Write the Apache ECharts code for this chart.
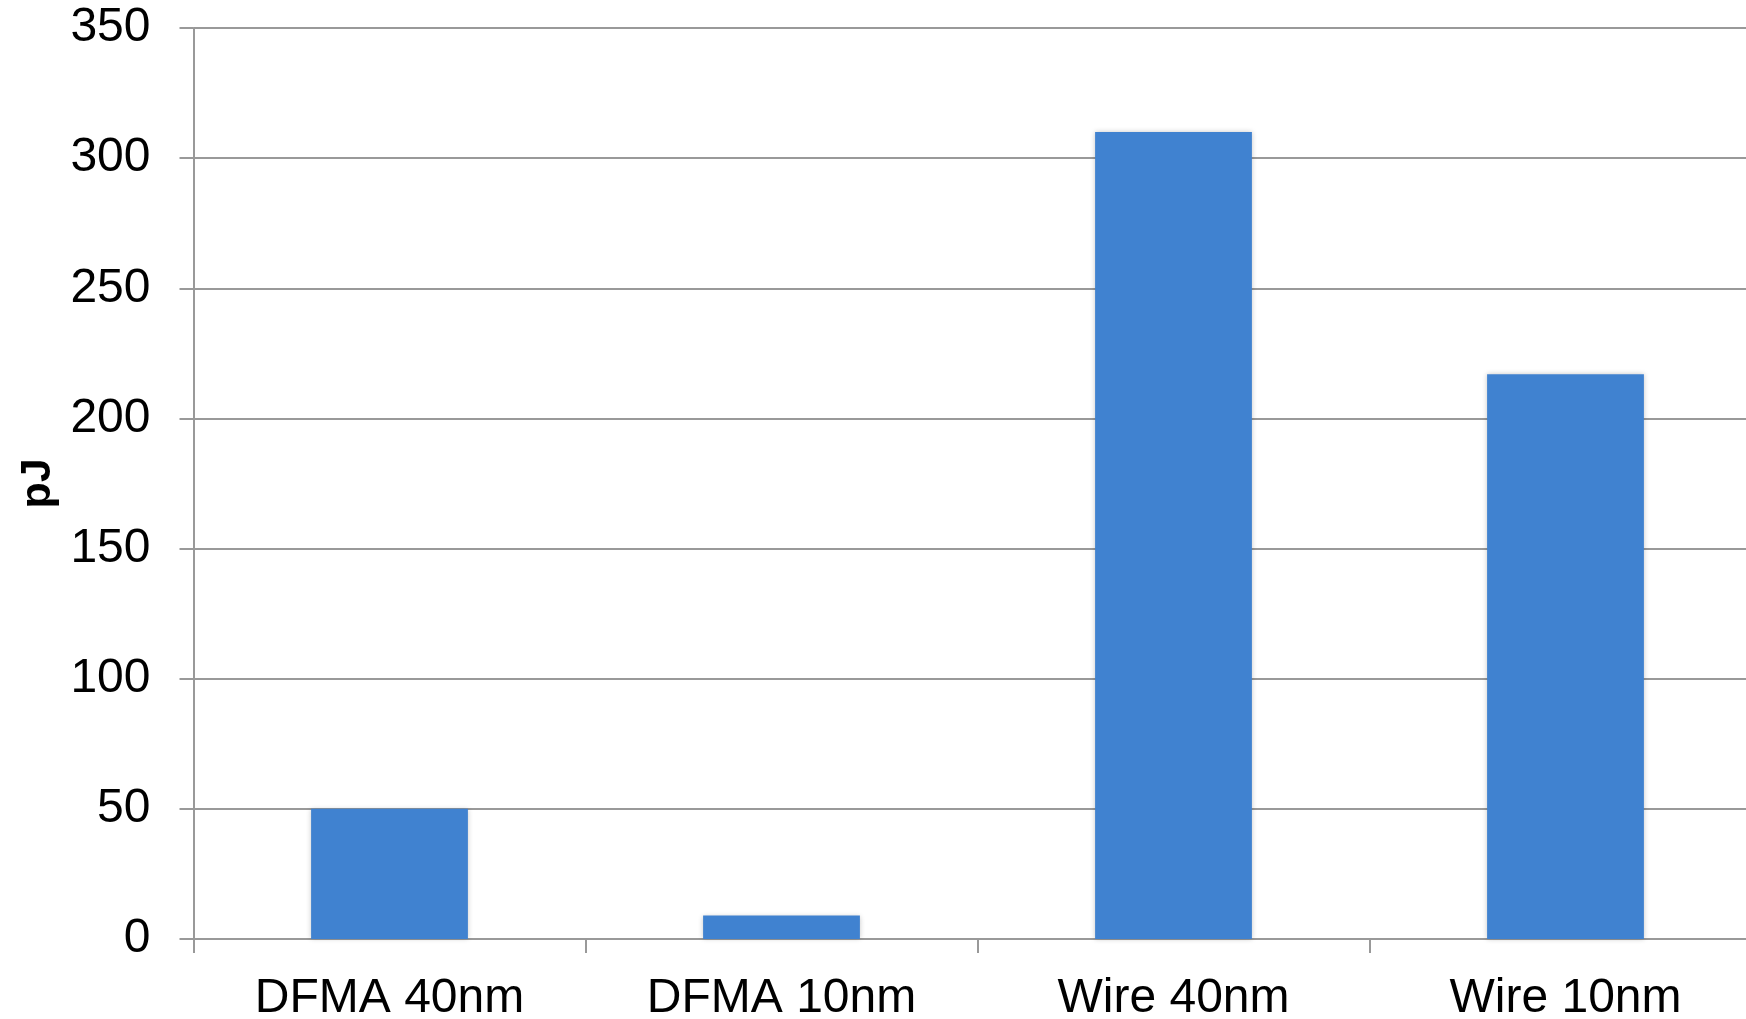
<!DOCTYPE html>
<html>
<head>
<meta charset="utf-8">
<title>Energy per operation</title>
<script src="https://cdn.jsdelivr.net/npm/echarts@6/dist/echarts.min.js"></script>
<style>
  html, body { margin: 0; padding: 0; background: #ffffff; overflow: hidden; }
  #chart { width: 1746px; height: 1019px; }
</style>
</head>
<body>
<div id="chart"></div>
<script>
// Energy per operation, in picojoules
const categories = ['DFMA 40nm', 'DFMA 10nm', 'Wire 40nm', 'Wire 10nm'];
const energyPJ = [50, 9, 310, 217];
const yTicks = { min: 0, max: 350, interval: 50 };

const gridGray = '#999999';
const fontFamily = '"Liberation Sans", Arial, Helvetica, sans-serif';

const chart = echarts.init(document.getElementById('chart'), null, { renderer: 'canvas' });

chart.setOption({
  backgroundColor: '#ffffff',
  animation: false,
  // the plot area runs slightly past the right edge of the canvas
  grid: { left: 193.5, top: 28, height: 911, width: 1568, containLabel: false, outerBoundsMode: 'none' },
  xAxis: {
    type: 'category',
    data: categories,
    boundaryGap: true,
    axisLine: { show: true, lineStyle: { color: gridGray, width: 2 } },
    axisTick: { show: true, inside: false, length: 14, alignWithLabel: false,
                lineStyle: { color: gridGray, width: 2 } },
    axisLabel: { color: '#000000', fontFamily: fontFamily, fontSize: 48, margin: 36 }
  },
  yAxis: {
    type: 'value',
    min: yTicks.min,
    max: yTicks.max,
    interval: yTicks.interval,
    name: 'pJ',
    nameLocation: 'middle',
    nameGap: 132,
    nameRotate: 90,
    nameTextStyle: { color: '#000000', fontFamily: fontFamily, fontSize: 43, fontWeight: 'bold' },
    axisLine: { show: true, lineStyle: { color: gridGray, width: 2 } },
    axisTick: { show: true, inside: false, length: 14, lineStyle: { color: gridGray, width: 2 } },
    splitLine: { show: true, lineStyle: { color: gridGray, width: 2 } },
    axisLabel: { color: '#000000', fontFamily: fontFamily, fontSize: 48, margin: 43, padding: [8, 0, 0, 0] }
  },
  series: [{
    type: 'bar',
    data: energyPJ,
    barCategoryGap: '60%',
    itemStyle: {
      color: '#4082D0',
      shadowBlur: 5,
      shadowColor: 'rgba(0,0,0,0.22)'
    }
  }]
});
</script>
</body>
</html>
